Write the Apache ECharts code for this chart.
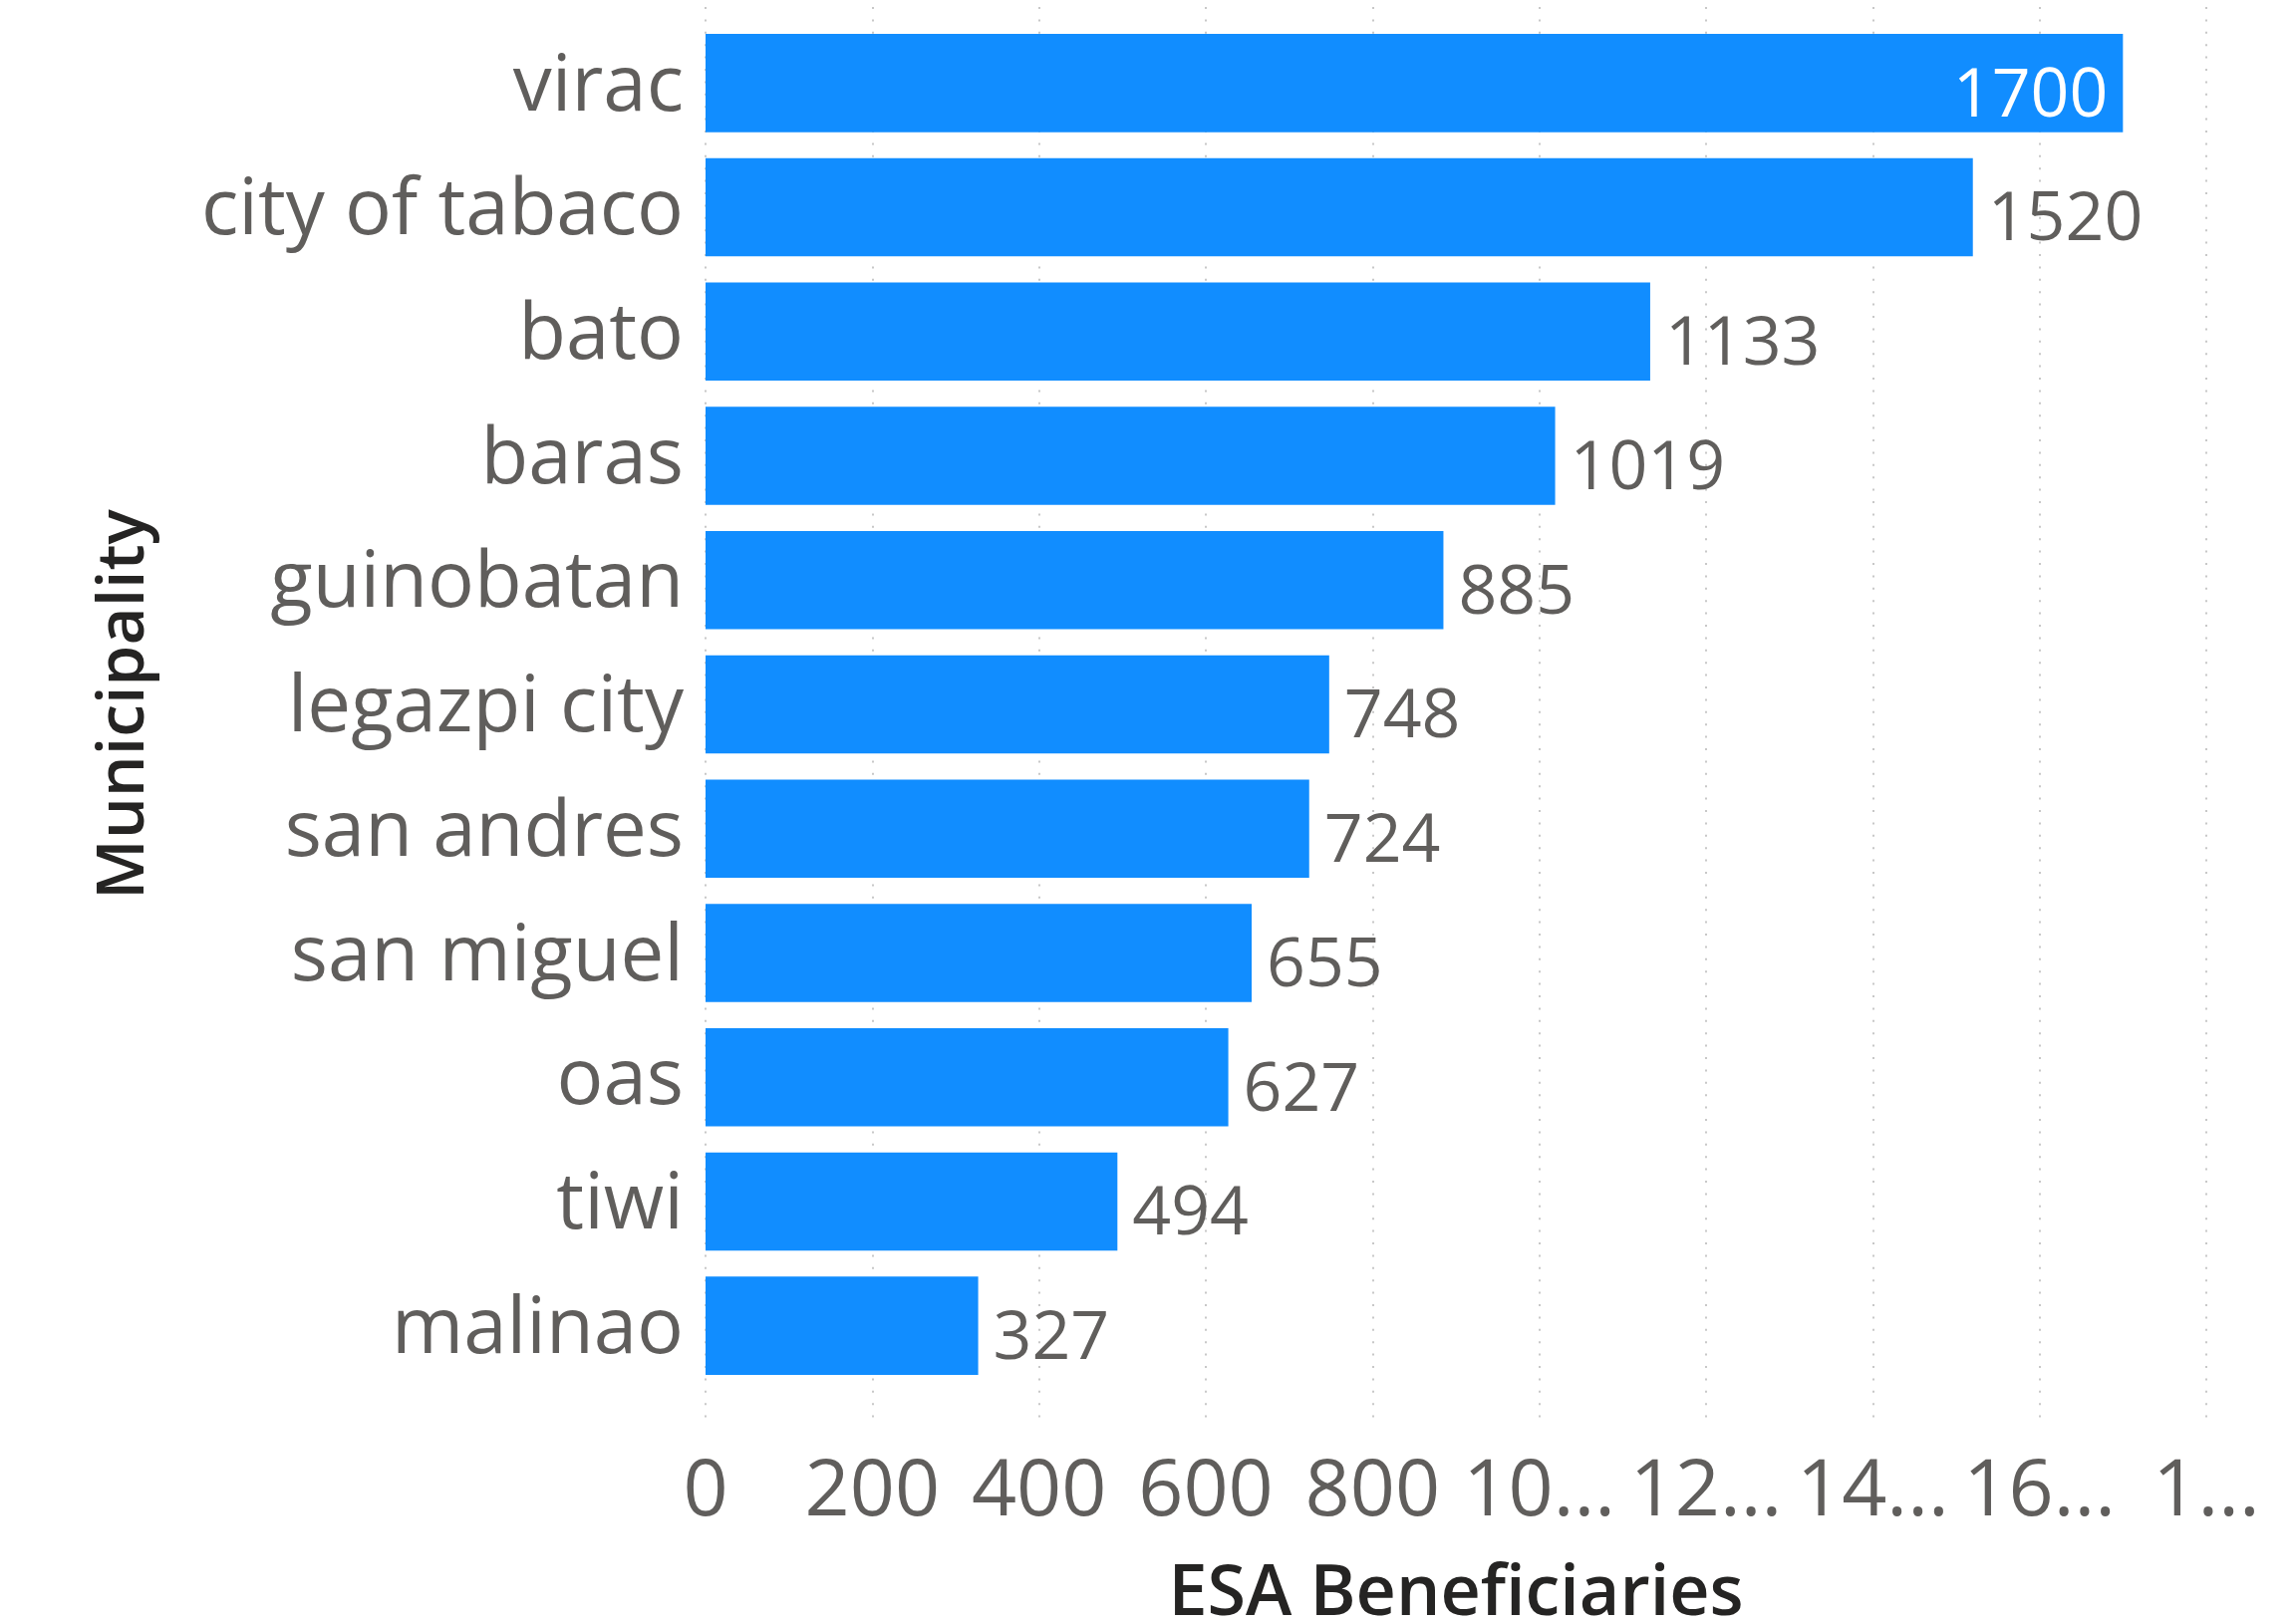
<!DOCTYPE html>
<html><head><meta charset="utf-8">
<script src="https://cdn.jsdelivr.net/npm/echarts@6/dist/echarts.min.js"></script>
<style>html,body{margin:0;padding:0;background:#fff}#c{width:2304px;height:1630px}</style>
</head><body><div id="c"></div>
<script>
const categories = ["virac","city of tabaco","bato","baras","guinobatan","legazpi city","san andres","san miguel","oas","tiwi","malinao"];
const values = [1700,1520,1133,1019,885,748,724,655,627,494,327];
const tickValues = [0,200,400,600,800,1000,1200,1400,1600,1800];
const tickLabels = ["0","200","400","600","800","10...","12...","14...","16...","1..."];
const insideLabelIndex = [0];

const FONT = '"Segoe UI", "Open Sans", sans-serif';
const chart = echarts.init(document.getElementById('c'), null, {renderer:'canvas'});
const data = values.map((v,i) => insideLabelIndex.includes(i) ? {
  value: v,
  label: {position:'insideRight', color:'#ffffff', distance:15}
} : v);

chart.setOption({
  animation:false,
  backgroundColor:'#ffffff',
  grid:[
    {left:708, right:90, top:21, height:1372, containLabel:false, outerBoundsMode:'none'},
    {left:708, right:90, top:7, bottom:200, containLabel:false, outerBoundsMode:'none'}
  ],
  xAxis:[
    {gridIndex:0, type:'value', min:0, max:1800, interval:200, show:false},
    {gridIndex:1, type:'value', min:0, max:1800, interval:200,
     axisLine:{show:false}, axisTick:{show:false},
     splitLine:{show:true, lineStyle:{color:'#C8C8C8', width:2, type:[2,10.4]}},
     axisLabel:{color:'#605E5C', fontFamily:FONT, fontSize:79, margin:29,
       formatter:(v)=>{const i=tickValues.indexOf(v); return i>=0?tickLabels[i]:'';}},
     name:'ESA Beneficiaries', nameLocation:'middle', nameGap:136,
     nameTextStyle:{color:'#252423', fontFamily:FONT, fontSize:70, fontWeight:600}
    }
  ],
  yAxis:[
    {gridIndex:0, type:'category', data:categories, inverse:true,
     axisLine:{show:false}, axisTick:{show:false}, splitLine:{show:false},
     axisLabel:{color:'#605E5C', fontFamily:FONT, fontSize:78, margin:22,
       formatter:(v)=>'{a|'+v+'}',
       rich:{a:{color:'#605E5C', fontFamily:FONT, fontSize:78, padding:[10,0,0,0]}}},
     name:'Municipality', nameLocation:'middle', nameGap:550,
     nameTextStyle:{color:'#252423', fontFamily:FONT, fontSize:66, fontWeight:600}
    },
    {gridIndex:1, type:'value', show:false, min:0, max:1}
  ],
  series:[{
    type:'bar', xAxisIndex:0, yAxisIndex:0, data:data,
    barCategoryGap:'21%',
    itemStyle:{color:'#118DFF'},
    label:{show:true, position:'right', distance:15, color:'#605E5C',
      fontFamily:FONT, fontSize:68, offset:[0,14]}
  }]
});
</script></body></html>
